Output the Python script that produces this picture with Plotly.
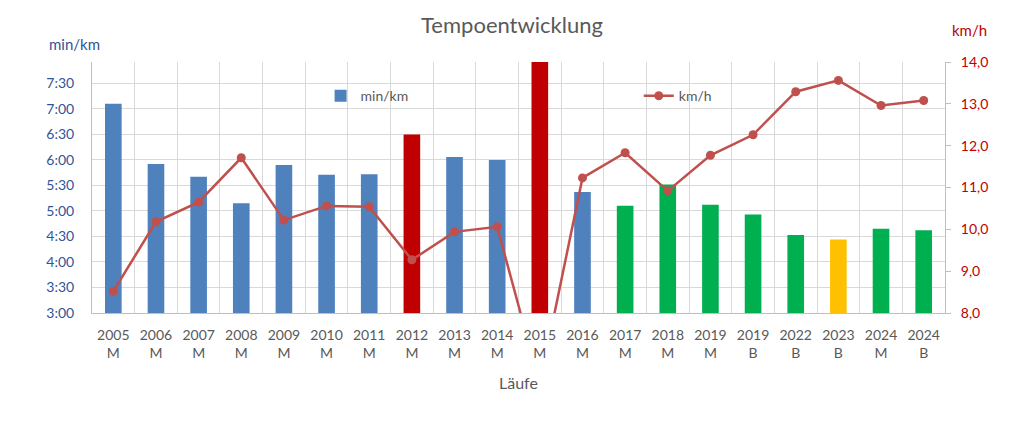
import plotly.graph_objects as go

# ---- data ----
years = ["2005", "2006", "2007", "2008", "2009", "2010", "2011", "2012", "2013", "2014",
         "2015", "2016", "2017", "2018", "2019", "2019", "2022", "2023", "2024", "2024"]
run_type = ["M", "M", "M", "M", "M", "M", "M", "M", "M", "M",
            "M", "M", "M", "M", "M", "B", "B", "B", "M", "B"]
# pace in minutes per km (decimal minutes)
pace_min_per_km = [7.10, 5.92, 5.67, 5.15, 5.90, 5.71, 5.72, 6.50, 6.06, 6.00,
                   9.50, 5.37, 5.10, 5.52, 5.12, 4.93, 4.53, 4.44, 4.65, 4.62]
speed_kmh = [8.52, 10.18, 10.65, 11.71, 10.22, 10.56, 10.54, 9.27, 9.94, 10.06,
             6.30, 11.23, 11.83, 10.92, 11.77, 12.26, 13.29, 13.56, 12.96, 13.08]
bar_colors = ["#4F81BD"] * 7 + ["#C00000"] + ["#4F81BD"] * 2 + ["#C00000", "#4F81BD"] + \
             ["#00B050"] * 5 + ["#FFC000"] + ["#00B050"] * 2
pace_ticks = [3.0, 3.5, 4.0, 4.5, 5.0, 5.5, 6.0, 6.5, 7.0, 7.5]
pace_tick_labels = ["3:00", "3:30", "4:00", "4:30", "5:00", "5:30", "6:00", "6:30", "7:00", "7:30"]

categories = [f"{y}<br>{t}" for y, t in zip(years, run_type)]

FONT = "Lato"
GRAY = "#595959"
BLUE_TXT = "#2F5597"
RED_TXT = "#C00000"

fig = go.Figure()
fig.add_trace(go.Bar(
    x=categories, y=pace_min_per_km, name="min/km",
    marker=dict(color=bar_colors, line=dict(width=0)),
    width=0.39, legend="legend",
))
fig.add_trace(go.Scatter(
    x=categories, y=speed_kmh, name="km/h", yaxis="y2",
    mode="lines+markers",
    line=dict(color="#C0504D", width=2.5),
    marker=dict(color="#C0504D", size=9),
    legend="legend2",
))

fig.update_layout(
    width=1024, height=426,
    margin=dict(l=92, r=79, t=62, b=113),
    paper_bgcolor="white", plot_bgcolor="white",
    separators=",.",
    font=dict(family=FONT, size=14, color=GRAY),
    title=dict(text="Tempoentwicklung", x=0.5, xanchor="center",
               y=1 - 25 / 426, yanchor="middle",
               font=dict(family=FONT, size=22, color=GRAY)),
    xaxis=dict(
        type="category", tickson="boundaries", tickangle=0,
        range=[-0.5, len(categories) - 0.5],
        showgrid=True, gridcolor="#D9D9D9", gridwidth=1,
        showline=True, linecolor="#BFBFBF", linewidth=1,
        ticks="", tickfont=dict(size=14, color=GRAY), ticklabelstandoff=9,
    ),
    yaxis=dict(
        range=[3.0, 7.92], tickvals=pace_ticks, ticktext=pace_tick_labels,
        showgrid=True, gridcolor="#D9D9D9", gridwidth=1,
        showline=True, linecolor="#BFBFBF", linewidth=1,
        ticks="", ticklabelstandoff=14,
        tickfont=dict(size=14, color=BLUE_TXT), zeroline=False,
    ),
    yaxis2=dict(
        range=[8, 14], dtick=1, tickformat=".1f",
        overlaying="y", side="right", showgrid=False, zeroline=False,
        showline=True, linecolor="#BFBFBF", linewidth=1,
        ticks="outside", ticklen=5, tickcolor="#BFBFBF", ticklabelstandoff=7,
        tickfont=dict(size=14, color=RED_TXT),
    ),
    legend=dict(x=0.268, y=0.864, xanchor="left", yanchor="middle",
                bgcolor="rgba(0,0,0,0)", font=dict(size=14, color=GRAY)),
    legend2=dict(x=0.641, y=0.864, xanchor="left", yanchor="middle",
                 bgcolor="rgba(0,0,0,0)", font=dict(size=14, color=GRAY)),
    showlegend=True,
    annotations=[
        dict(text="min/km", xref="paper", yref="paper", x=-0.021, y=(313.3 - 44) / 251.6,
             xanchor="center", yanchor="middle", showarrow=False,
             font=dict(size=15, color=BLUE_TXT)),
        dict(text="km/h", xref="paper", yref="paper", x=1.029, y=(313.3 - 30) / 251.6,
             xanchor="center", yanchor="middle", showarrow=False,
             font=dict(size=15, color=RED_TXT)),
        dict(text="Läufe", xref="paper", yref="paper", x=0.5, y=(313.3 - 383) / 251.6,
             xanchor="center", yanchor="middle", showarrow=False,
             font=dict(size=16, color=GRAY)),
    ],
)

fig.write_html("out.html")
